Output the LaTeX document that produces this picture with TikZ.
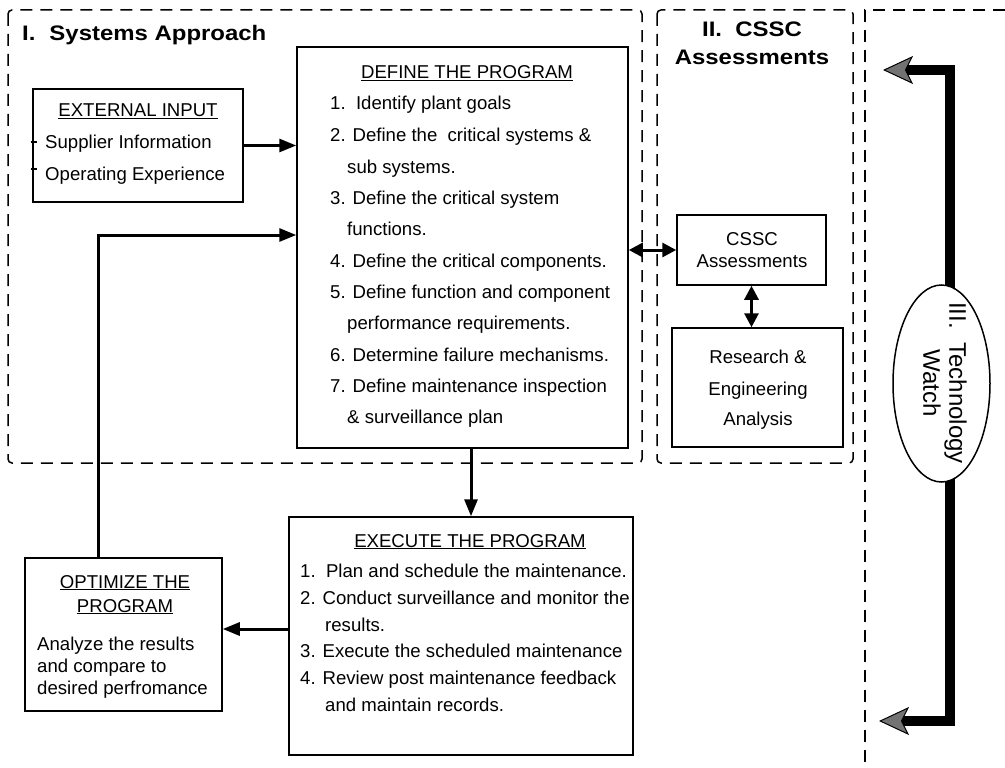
\documentclass[tikz,border=0pt]{standalone}
\usepackage{fontspec}
\setmainfont{Liberation Sans}
\newfontfamily\headfont{Liberation Sans}[FakeStretch=1.14]
\usetikzlibrary{arrows.meta,shapes.geometric,backgrounds}

\tikzset{
  box/.style={draw, line width=1.5pt, inner sep=0pt},
  region/.style={line width=1.5pt, dash pattern=on 12pt off 8pt},
  txt/.style={inner sep=0pt, anchor=base west, font=\fontsize{18.6}{22}\selectfont},
  ctxt/.style={txt, anchor=base},
  head/.style={inner sep=0pt, anchor=base, font=\headfont\bfseries\fontsize{21}{24}\selectfont},
  conn/.style={line width=3pt, -{Triangle[length=17pt,width=13pt]}},
  dbl/.style={line width=3pt, {Triangle[length=14pt,width=14pt]}-{Triangle[length=14pt,width=14pt]}},
  watch/.style={line width=10pt, line join=miter,
    -{Stealth[length=30pt,width=28pt,inset=7pt,fill=black!55,line width=1pt]}},
}

\begin{document}
\begin{tikzpicture}[x=1pt,y=-1pt]
\useasboundingbox (0,0) rectangle (1005,768);

% dashed regions
\draw[region, rounded corners=4pt] (8,10) rectangle (642,463);
\draw[region, rounded corners=4pt] (657,10) rectangle (853,463);
\draw[region] (1005,10) -- (865,10) -- (865,768);

% region titles
\node[head, anchor=base west] (t1) at (22,41) {I.\hspace{14pt}Systems Approach};
\node[head] (t2a) at (752,37) {II.\ \ CSSC};
\node[head] (t2b) at (752,65) {Assessments};

% boxes
\node[box, minimum width=331pt, minimum height=401pt] (def) at (462.5,247.5) {};
\node[box, minimum width=210pt, minimum height=113pt] (ext) at (138,145.5) {};
\node[box, minimum width=197pt, minimum height=153pt] (opt) at (123.5,634.5) {};
\node[box, minimum width=344pt, minimum height=238pt] (exe) at (461,636) {};
\node[box, minimum width=149pt, minimum height=70pt] (cssc) at (751.5,250) {};
\node[box, minimum width=171pt, minimum height=119pt] (res) at (757.5,387.5) {};
\node[ellipse, draw, line width=1.5pt, fill=white, inner sep=0pt,
      minimum width=97pt, minimum height=197pt] (tw) at (941.5,383.5) {};

% define the program
\node[ctxt] (dT) at (467,79) {\underline{DEFINE THE PROGRAM}};
\node[txt] (d1) at (330,110) {1.\ \ Identify plant goals};
\node[txt] (d2) at (330,142) {2. Define the\ \ critical systems \&};
\node[txt] (d2b) at (347,173) {sub systems.};
\node[txt] (d3) at (330,204) {3. Define the critical system};
\node[txt] (d3b) at (347,235) {functions.};
\node[txt] (d4) at (330,267) {4. Define the critical components.};
\node[txt] (d5) at (330,298) {5. Define function and component};
\node[txt] (d5b) at (347,329) {performance requirements.};
\node[txt] (d6) at (330,361) {6. Determine failure mechanisms.};
\node[txt] (d7) at (330,392) {7. Define maintenance inspection};
\node[txt] (d7b) at (347,423) {\& surveillance plan};

% external input
\node[ctxt] (eT) at (138,117) {\underline{EXTERNAL INPUT}};
\node[txt] (e1) at (45,149) {Supplier Information};
\node[txt] (e2) at (45,180) {Operating Experience};
\draw[line width=1.2pt] (31,142) -- (37,142);
\draw[line width=1.2pt] (31,169) -- (37,169);

% optimize the program
\node[ctxt] (oT1) at (125,588) {\underline{OPTIMIZE THE}};
\node[ctxt] (oT2) at (125,612) {\underline{PROGRAM}};
\node[txt] (o1) at (37,650) {Analyze the results};
\node[txt] (o2) at (37,672) {and compare to};
\node[txt] (o3) at (37,694) {desired perfromance};

% execute the program
\node[ctxt] (xT) at (470,547) {\underline{EXECUTE THE PROGRAM}};
\node[txt] (x1) at (300,577) {1.\ \ Plan and schedule the maintenance.};
\node[txt] (x2) at (300,604) {2. Conduct surveillance and monitor the};
\node[txt] (x2b) at (325,631) {results.};
\node[txt] (x3) at (300,657) {3. Execute the scheduled maintenance};
\node[txt] (x4) at (300,684) {4. Review post maintenance feedback};
\node[txt] (x4b) at (325,711) {and maintain records.};

% assessments
\node[ctxt] (c1) at (752,245) {CSSC};
\node[ctxt] (c2) at (752,267) {Assessments};
\node[ctxt] (r1) at (758,363) {Research \&};
\node[ctxt] (r2) at (758,395) {Engineering};
\node[ctxt] (r3) at (758,425) {Analysis};

% technology watch
\node[inner sep=0pt, rotate=-90, align=center, font=\fontsize{24}{26}\selectfont]
  (twt) at (945,383) {III.\ \ Technology\\Watch};

% connectors
\coordinate (dx) at (471,0);
\draw[conn] (def.south -| dx) -- (exe.north -| dx);
\draw[conn] (ext.east) -- (ext.east -| def.west);
\coordinate (fb) at (98,235);
\draw[conn] (opt.north -| fb) -- (fb) -- (def.west |- fb);
\coordinate (xo) at (0,629);
\draw[conn] (exe.west |- xo) -- (opt.east |- xo);
\draw[dbl] (def.east |- cssc.west) -- (cssc.west);
\draw[dbl] (cssc.south) -- (cssc.south |- res.north);

\coordinate (bx) at (950,0);
\coordinate (tt) at (883,70);
\coordinate (bt) at (879,721);
\begin{scope}[on background layer]
  \draw[watch] (bx |- tw.center) -- (bx |- tt) -- (tt);
  \draw[watch] (bx |- tw.center) -- (bx |- bt) -- (bt);
\end{scope}
\end{tikzpicture}
\end{document}
